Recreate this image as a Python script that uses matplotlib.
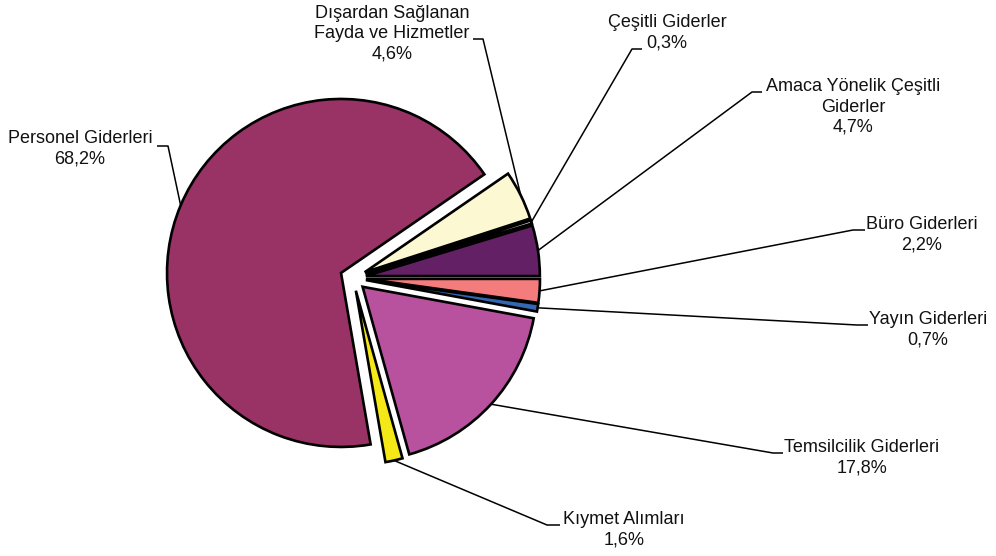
import numpy as np
import matplotlib
matplotlib.use("Agg")
import matplotlib.pyplot as plt

# ---- data (counter-clockwise from 3 o'clock) ----
categories = ["Amaca Yönelik Çeşitli\nGiderler", "Çeşitli Giderler",
              "Dışardan Sağlanan\nFayda ve Hizmetler", "Personel Giderleri",
              "Kıymet Alımları", "Temsilcilik Giderleri", "Yayın Giderleri",
              "Büro Giderleri"]
values = [4.7, 0.3, 4.6, 68.2, 1.6, 17.8, 0.7, 2.2]
colors = ["#642064", "#FFFFFF", "#FBF8D2", "#993366",
          "#F4E816", "#B8529E", "#3366B3", "#F47C7C"]

# ---- layout (image pixel coords: y downwards) ----
W, H = 996, 556
pie_center = (353, 278)
pie_radius = 174
explode_px = 13
# text centre, elbow point, tick end
label_layout = [
    ((853, 107), (752, 92), (762, 92)),
    ((667, 33), (632, 49), (642, 49)),
    ((392, 34), (483, 39), (473, 39)),
    ((80, 149), (168, 146), (157, 146)),
    ((624, 530), (547, 525), (560, 525)),
    ((862, 458), (773, 453), (783, 453)),
    ((928, 330), (857, 325), (868, 325)),
    ((922, 235), (853, 230), (865, 230)),
]

plt.rcParams['font.family'] = ['Liberation Sans', 'DejaVu Sans']

fig = plt.figure(figsize=(W / 100, H / 100), dpi=100)
ax = fig.add_axes([0, 0, 1, 1])

wedges, _ = ax.pie(values, colors=colors, startangle=0, counterclock=True,
                   radius=pie_radius, center=(pie_center[0], H - pie_center[1]),
                   explode=[explode_px] * len(values),
                   wedgeprops=dict(edgecolor='black', linewidth=1.9, joinstyle='miter'),
                   frame=True)

for w, name, v, (tpos, elbow, tick) in zip(wedges, categories, values, label_layout):
    mid = np.deg2rad((w.theta1 + w.theta2) / 2)
    cx, cy = w.center
    sx, sy = cx + w.r * np.cos(mid), cy + w.r * np.sin(mid)
    ax.plot([sx, elbow[0], tick[0]], [sy, H - elbow[1], H - tick[1]],
            color='black', lw=1.1, solid_capstyle='butt', zorder=0.5)
    pct = f"{v:.1f}".replace('.', ',') + '%'
    ax.text(tpos[0], H - tpos[1], f"{name}\n{pct}", ha='center', va='center',
            multialignment='center', fontsize=13, linespacing=1.25, color='#111111')

ax.set_xlim(0, W)
ax.set_ylim(0, H)
ax.set_aspect('auto')
ax.axis('off')
fig.savefig("out.png", dpi=100, facecolor='white')
